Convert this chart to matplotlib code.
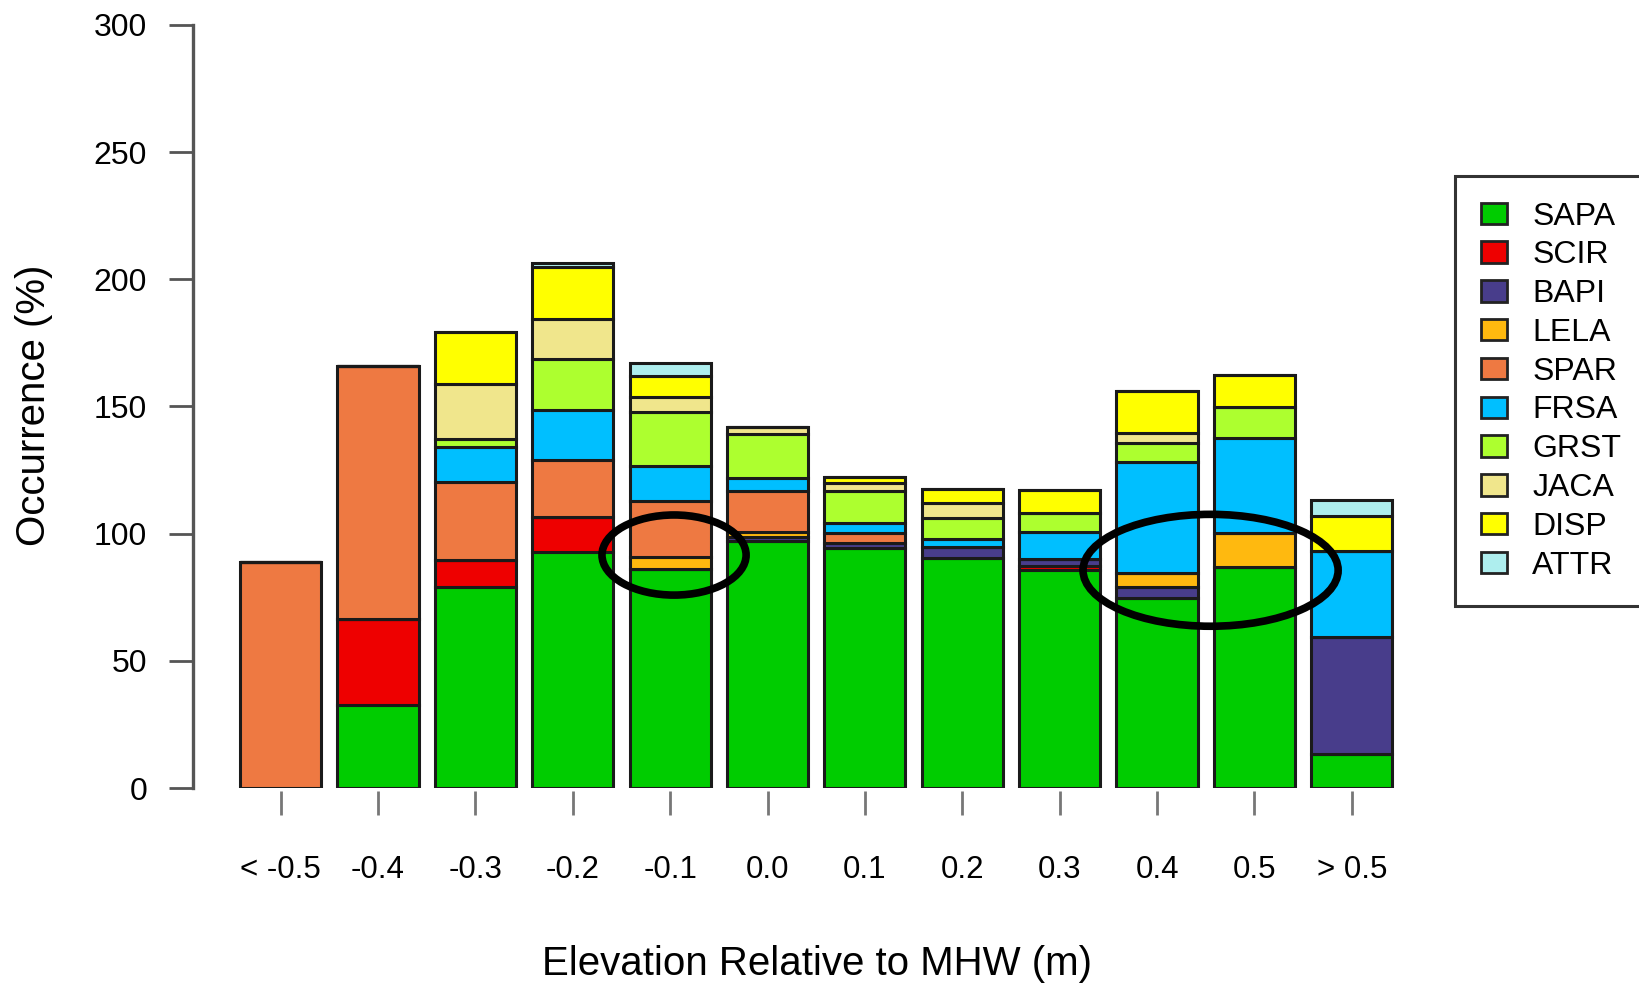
#!/usr/bin/env python

import matplotlib
matplotlib.use("Agg")
import matplotlib.pyplot as plt
from matplotlib.patches import Patch, Ellipse
import numpy as np

plt.rcParams["font.family"] = ["Liberation Sans", "DejaVu Sans"]

# elevation bins (m relative to MHW)
bins = ["< -0.5", "-0.4", "-0.3", "-0.2", "-0.1", "0.0",
        "0.1", "0.2", "0.3", "0.4", "0.5", "> 0.5"]

# occurrence (%) per species, stacked bottom -> top
species = ["SAPA", "SCIR", "BAPI", "LELA", "SPAR",
           "FRSA", "GRST", "JACA", "DISP", "ATTR"]
sapa = [0, 32.6, 79, 92.7, 86, 97, 94.3, 90.3, 85.7, 74.8, 86.8, 13.3]
scir = [0, 33.7, 10.5, 13.8, 0, 0, 0, 0, 1.5, 0, 0, 0]
bapi = [0, 0, 0, 0, 0, 1.5, 2, 4.6, 2.8, 4.4, 0, 46.2]
lela = [0, 0, 0, 0, 5, 2, 0, 0, 0, 5.2, 13.4, 0]
spar = [89, 99.7, 31, 22.3, 21.9, 16.1, 4.1, 0, 0, 0, 0, 0]
frsa = [0, 0, 13.5, 19.7, 13.8, 5.3, 3.7, 3, 10.5, 43.9, 37.3, 33.7]
grst = [0, 0, 3.4, 20.3, 21.3, 17.3, 12.7, 8.1, 7.5, 7.2, 12.4, 0]
jaca = [0, 0, 21.3, 15.5, 5.9, 2.7, 3.3, 6.2, 0, 4, 0, 0]
disp = [0, 0, 20.5, 20.4, 7.9, 0, 2, 5.3, 9.2, 16.7, 12.5, 13.8]
attr = [0, 0, 0, 1.6, 5.5, 0, 0, 0, 0, 0, 0, 6.3]

colors = ["#00CC00", "#EE0000", "#483D8B", "#FFB90F", "#EE7942",
          "#00BFFF", "#ADFF2F", "#F0E68C", "#FFFF00", "#AEEEEE"]

series = [sapa, scir, bapi, lela, spar, frsa, grst, jaca, disp, attr]

#
#   figure
#
fig = plt.figure(figsize=(16.39, 9.88), dpi=100)
ax = fig.add_axes([193 / 1639, 1 - 788 / 988, 1262 / 1639, 763 / 988])

x = np.arange(len(bins))
bottom = np.zeros(len(bins))
for vals, col in zip(series, colors):
    vals = np.array(vals, dtype=float)
    ax.bar(x, vals, width=0.833, bottom=bottom, color=col,
           edgecolor="#1a1a1a", linewidth=2.2)
    bottom += vals

ax.set_xlim(-0.9, 12.06)
ax.set_ylim(0, 300)

# axes styling (R-like)
for s in ["top", "right"]:
    ax.spines[s].set_visible(False)
ax.spines["left"].set_color("#555555")
ax.spines["left"].set_linewidth(2.4)
ax.spines["left"].set_bounds(0, 300)
ax.spines["bottom"].set_color("none")
ax.spines["bottom"].set_position(("outward", 2))

ax.set_yticks([0, 50, 100, 150, 200, 250, 300])
ax.set_xticks(x)
ax.set_xticklabels(bins)
ax.tick_params(axis="y", length=17, width=2, color="#555555",
               pad=16, labelsize=23)
ax.tick_params(axis="x", length=17, width=2, color="#777777",
               pad=29, labelsize=22.5)

# labels
fig.text(817 / 1639, 1 - 964 / 988, "Elevation Relative to MHW (m)",
         ha="center", va="center", fontsize=29)
fig.text(34 / 1639, 1 - 405 / 988, "Occurrence (%)", rotation=90,
         ha="center", va="center", fontsize=29)

# highlight ellipses
ax.add_patch(Ellipse((4.04, 91.6), 1.48, 31.5, fill=False,
                     edgecolor="black", linewidth=5.5, clip_on=False, zorder=5))
ax.add_patch(Ellipse((9.55, 85.6), 2.62, 44, fill=False,
                     edgecolor="black", linewidth=5.5, clip_on=False, zorder=5))

# legend
handles = [Patch(facecolor=c, edgecolor="#222222", linewidth=2) for c in colors]
leg = fig.legend(handles, species, loc="upper left",
                 bbox_to_anchor=(1455 / 1639, 1 - 176 / 988),
                 borderaxespad=0, fontsize=23, frameon=True, fancybox=False,
                 edgecolor="#333333", framealpha=1,
                 handlelength=0.815, handleheight=0.66, handletextpad=0.8,
                 labelspacing=0.275, borderpad=0.8)
leg.get_frame().set_linewidth(2.2)

fig.savefig("out.png", dpi=100)
